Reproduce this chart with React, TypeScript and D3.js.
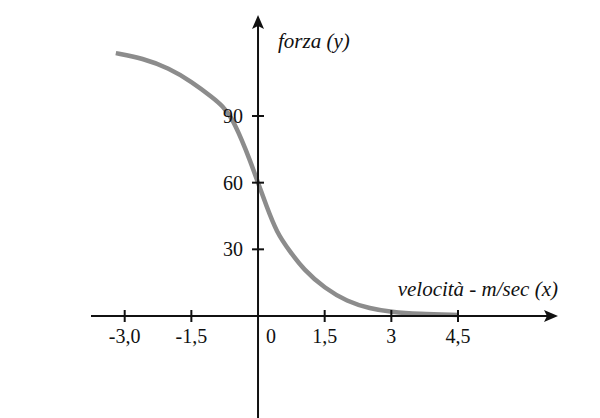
import React from 'react';
import * as d3 from 'd3';

// x ticks and their printed labels (italian comma decimals)
const xTicks = [-3, -1.5, 0, 1.5, 3, 4.5];
const xTickLabels = ['-3,0', '-1,5', '0', '1,5', '3', '4,5'];
const yTicks = [30, 60, 90];
const yTickLabels = ['30', '60', '90'];

// curve
const velocita = [-3.2, -2.6, -2.0, -1.5, -1.0, -0.8, -0.6, -0.37, -0.18, 0, 0.18, 0.42, 0.72, 1.02, 1.51, 2.0, 2.52, 3.0, 3.6, 4.5];
const forza = [118.3, 116, 111.5, 105.5, 98, 94.5, 89.5, 79.5, 70, 60, 50, 37.5, 29, 21, 12.3, 6.6, 3.3, 1.8, 0.9, 0.5];

const W = 600;
const H = 418;

export default function App() {
  // scales: origin at (258, 316)
  const x = d3.scaleLinear().domain([-3, 4.5]).range([124.7, 458]);
  const y = d3.scaleLinear().domain([0, 90]).range([316, 116]);

  const pts: [number, number][] = velocita.map((v, i) => [v, forza[i]]);
  // basis smooths out the small reading errors
  const line = d3.line<[number, number]>()
    .x(d => x(d[0]))
    .y(d => y(d[1]))
    .curve(d3.curveBasis);

  const x0 = x(0);
  const y0 = y(0);
  const font = '"Liberation Serif", "DejaVu Serif", serif';

  return (
    <svg width={W} height={H} style={{ position: 'absolute', left: 0, top: 0, background: '#fff' }}
         fontFamily={font}>
      {/* curve */}
      <path d={line(pts) || ''} fill="none" stroke="#8c8c8c" strokeWidth={4.5} />

      {/* x axis */}
      <line x1={91} x2={552} y1={y0} y2={y0} stroke="#111" strokeWidth={2} />
      <path d={`M558,${y0} L544,${y0 - 6} L547,${y0} L544,${y0 + 6} Z`} fill="#111" />

      {/* y axis */}
      <line x1={x0} x2={x0} y1={22} y2={418} stroke="#111" strokeWidth={2} />
      <path d={`M${x0},15 L${x0 - 6},29 L${x0},26 L${x0 + 6},29 Z`} fill="#111" />

      {/* x ticks */}
      {xTicks.map((t, i) => (
        <g key={'xt' + i}>
          {t !== 0 && (
            <line x1={x(t)} x2={x(t)} y1={y0 - 6} y2={y0 + 6} stroke="#111" strokeWidth={2} />
          )}
          <text x={t === 0 ? x0 + 13 : x(t)} y={343} fontSize={20} textAnchor="middle" fill="#111">
            {xTickLabels[i]}
          </text>
        </g>
      ))}

      {/* y ticks */}
      {yTicks.map((t, i) => (
        <g key={'yt' + i}>
          <line x1={x0 - 6} x2={x0 + 6} y1={y(t)} y2={y(t)} stroke="#111" strokeWidth={2} />
          <text x={243} y={y(t) + 7} fontSize={20} textAnchor="end" fill="#111">
            {yTickLabels[i]}
          </text>
        </g>
      ))}

      {/* axis titles */}
      <text x={278} y={48} fontSize={21} fontStyle="italic" fill="#111">forza (y)</text>
      <text x={558} y={296} fontSize={21} fontStyle="italic" textAnchor="end" fill="#111">
        velocità - m/sec (x)
      </text>
    </svg>
  );
}
